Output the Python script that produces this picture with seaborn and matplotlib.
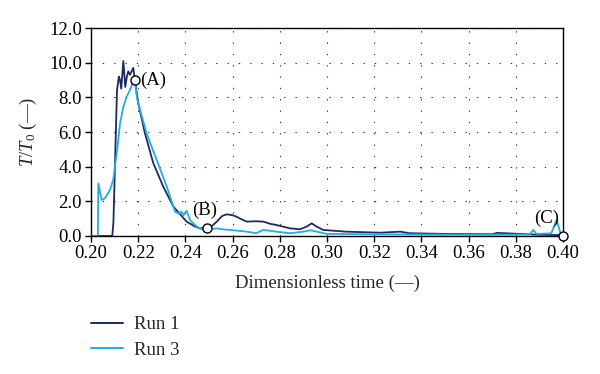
import matplotlib
matplotlib.use("Agg")
import matplotlib.pyplot as plt
import seaborn as sns
import pandas as pd
from matplotlib.lines import Line2D

# Run 1 (dark)
t_run1 = [0.200, 0.2090, 0.2095, 0.2110, 0.2118, 0.2123, 0.2128, 0.2137, 0.2145, 0.2152, 0.2158,
          0.2165, 0.2172, 0.2179, 0.2186, 0.2200, 0.2229, 0.2264, 0.2306, 0.2349, 0.2405,
          0.2440, 0.2462, 0.2490, 0.2510, 0.2533, 0.2555, 0.2575, 0.2600, 0.2617, 0.2640,
          0.2660, 0.2700, 0.2730, 0.2760, 0.2787, 0.2843, 0.2886, 0.2915, 0.2935, 0.2955,
          0.2984, 0.3080, 0.3225, 0.3310, 0.3350, 0.3500, 0.3700, 0.3720, 0.3900, 0.4000]
v_run1 = [0.0, 0.0, 0.8, 8.4, 9.2, 9.0, 8.5, 10.1, 8.6, 9.2, 9.5,
          9.3, 9.5, 9.7, 9.0, 7.66, 5.9, 4.2, 2.85, 1.7, 0.83,
          0.55, 0.44, 0.48, 0.55, 0.83, 1.15, 1.25, 1.2, 1.11, 0.95,
          0.83, 0.85, 0.83, 0.70, 0.63, 0.44, 0.39, 0.55, 0.73, 0.55,
          0.35, 0.25, 0.19, 0.25, 0.16, 0.12, 0.10, 0.18, 0.07, 0.05]

# Run 3 (light)
t_run3 = [0.200, 0.2029, 0.2031, 0.2045, 0.2059, 0.2080, 0.2094, 0.2109, 0.2123, 0.2137,
          0.2151, 0.2165, 0.2176, 0.2186, 0.2194, 0.2208, 0.2236, 0.2278, 0.2321, 0.2356,
          0.2370, 0.2384, 0.2392, 0.2405, 0.2420, 0.2448, 0.2476, 0.2500, 0.2533, 0.2560,
          0.2590, 0.2660, 0.2700, 0.2730, 0.2787, 0.2843, 0.2900, 0.2930, 0.3000, 0.3200,
          0.3500, 0.3800, 0.3860, 0.3874, 0.3888, 0.3950, 0.3973, 0.3990, 0.4000]
v_run3 = [0.0, 0.0, 3.04, 2.08, 2.17, 2.65, 3.23, 4.77, 6.5, 7.46,
          8.04, 8.42, 8.8, 8.9, 8.04, 7.27, 5.9, 4.4, 2.85, 1.4,
          1.3, 1.4, 1.2, 1.46, 0.92, 0.54, 0.35, 0.38, 0.44, 0.38,
          0.35, 0.25, 0.16, 0.35, 0.25, 0.16, 0.25, 0.33, 0.12, 0.10,
          0.08, 0.08, 0.10, 0.35, 0.12, 0.15, 0.92, 0.15, 0.05]

# Marked points
pt_labels = ["(A)", "(B)", "(C)"]
pt_t = [0.2186, 0.2490, 0.4000]
pt_v = [9.0, 0.48, 0.0]

series_names = ["Run 1", "Run 3"]
colors = {"Run 1": "#1d2c5e", "Run 3": "#22ade2"}

x_ticks = [0.20, 0.22, 0.24, 0.26, 0.28, 0.30, 0.32, 0.34, 0.36, 0.38, 0.40]
y_ticks = [0.0, 2.0, 4.0, 6.0, 8.0, 10.0, 12.0]

df = pd.concat([
    pd.DataFrame({"t": t_run1, "v": v_run1, "run": series_names[0]}),
    pd.DataFrame({"t": t_run3, "v": v_run3, "run": series_names[1]}),
], ignore_index=True)

sns.set_style("white")
plt.rcParams["font.family"] = ["Liberation Serif", "DejaVu Serif"]
plt.rcParams["mathtext.fontset"] = "custom"
plt.rcParams["mathtext.it"] = "Liberation Serif:italic"
plt.rcParams["mathtext.rm"] = "Liberation Serif"

FS = 13.5

fig = plt.figure(figsize=(6.0, 3.74), dpi=100)
ax = fig.add_axes([0.1517, 0.369, 0.7866, 0.556])

sns.lineplot(data=df, x="t", y="v", hue="run", palette=colors, ax=ax,
             linewidth=1.3, sort=False, estimator=None, legend=False)

ax.plot(pt_t, pt_v, linestyle="none", marker="o", markersize=6.5,
        markerfacecolor="white", markeredgecolor="black", markeredgewidth=1.0,
        zorder=5, clip_on=False)
offsets = [(0.0022, 0.0, "left", "center"), (-0.001, 0.5, "center", "bottom"),
           (-0.0015, 0.5, "right", "bottom")]
for lab, tx, vy, (dx, dy, ha, va) in zip(pt_labels, pt_t, pt_v, offsets):
    ax.text(tx + dx, vy + dy, lab, ha=ha, va=va, fontsize=FS, color="black")

ax.set_xlim(0.20, 0.40)
ax.set_ylim(0.0, 12.0)
ax.set_xticks(x_ticks)
ax.set_xticklabels([f"{v:.2f}" for v in x_ticks])
ax.set_yticks(y_ticks)
ax.set_yticklabels([f"{v:.1f}" for v in y_ticks])
ax.grid(True, color="#333333", linestyle=(0, (1.2, 9)), linewidth=0.8)
for s in ax.spines.values():
    s.set_visible(True)
    s.set_color("black")
    s.set_linewidth(1.0)
ax.tick_params(axis="both", which="major", direction="out", length=4, width=1,
               labelsize=FS, colors="black", bottom=True, left=True, top=False, right=False,
               pad=2.5)
ax.set_xlabel("Dimensionless time (—)", fontsize=FS, labelpad=9)
ax.set_ylabel(r"$T/T_0$ (—)", fontsize=FS, labelpad=7)

handles = [Line2D([0], [0], color=colors[n], lw=1.4) for n in series_names]
fig.legend(handles, series_names, loc="upper left", bbox_to_anchor=(0.152, 0.155),
           frameon=False, fontsize=FS, handlelength=1.7, handletextpad=0.6,
           labelspacing=0.45, borderpad=0, borderaxespad=0)

fig.savefig("out.png", dpi=100)
